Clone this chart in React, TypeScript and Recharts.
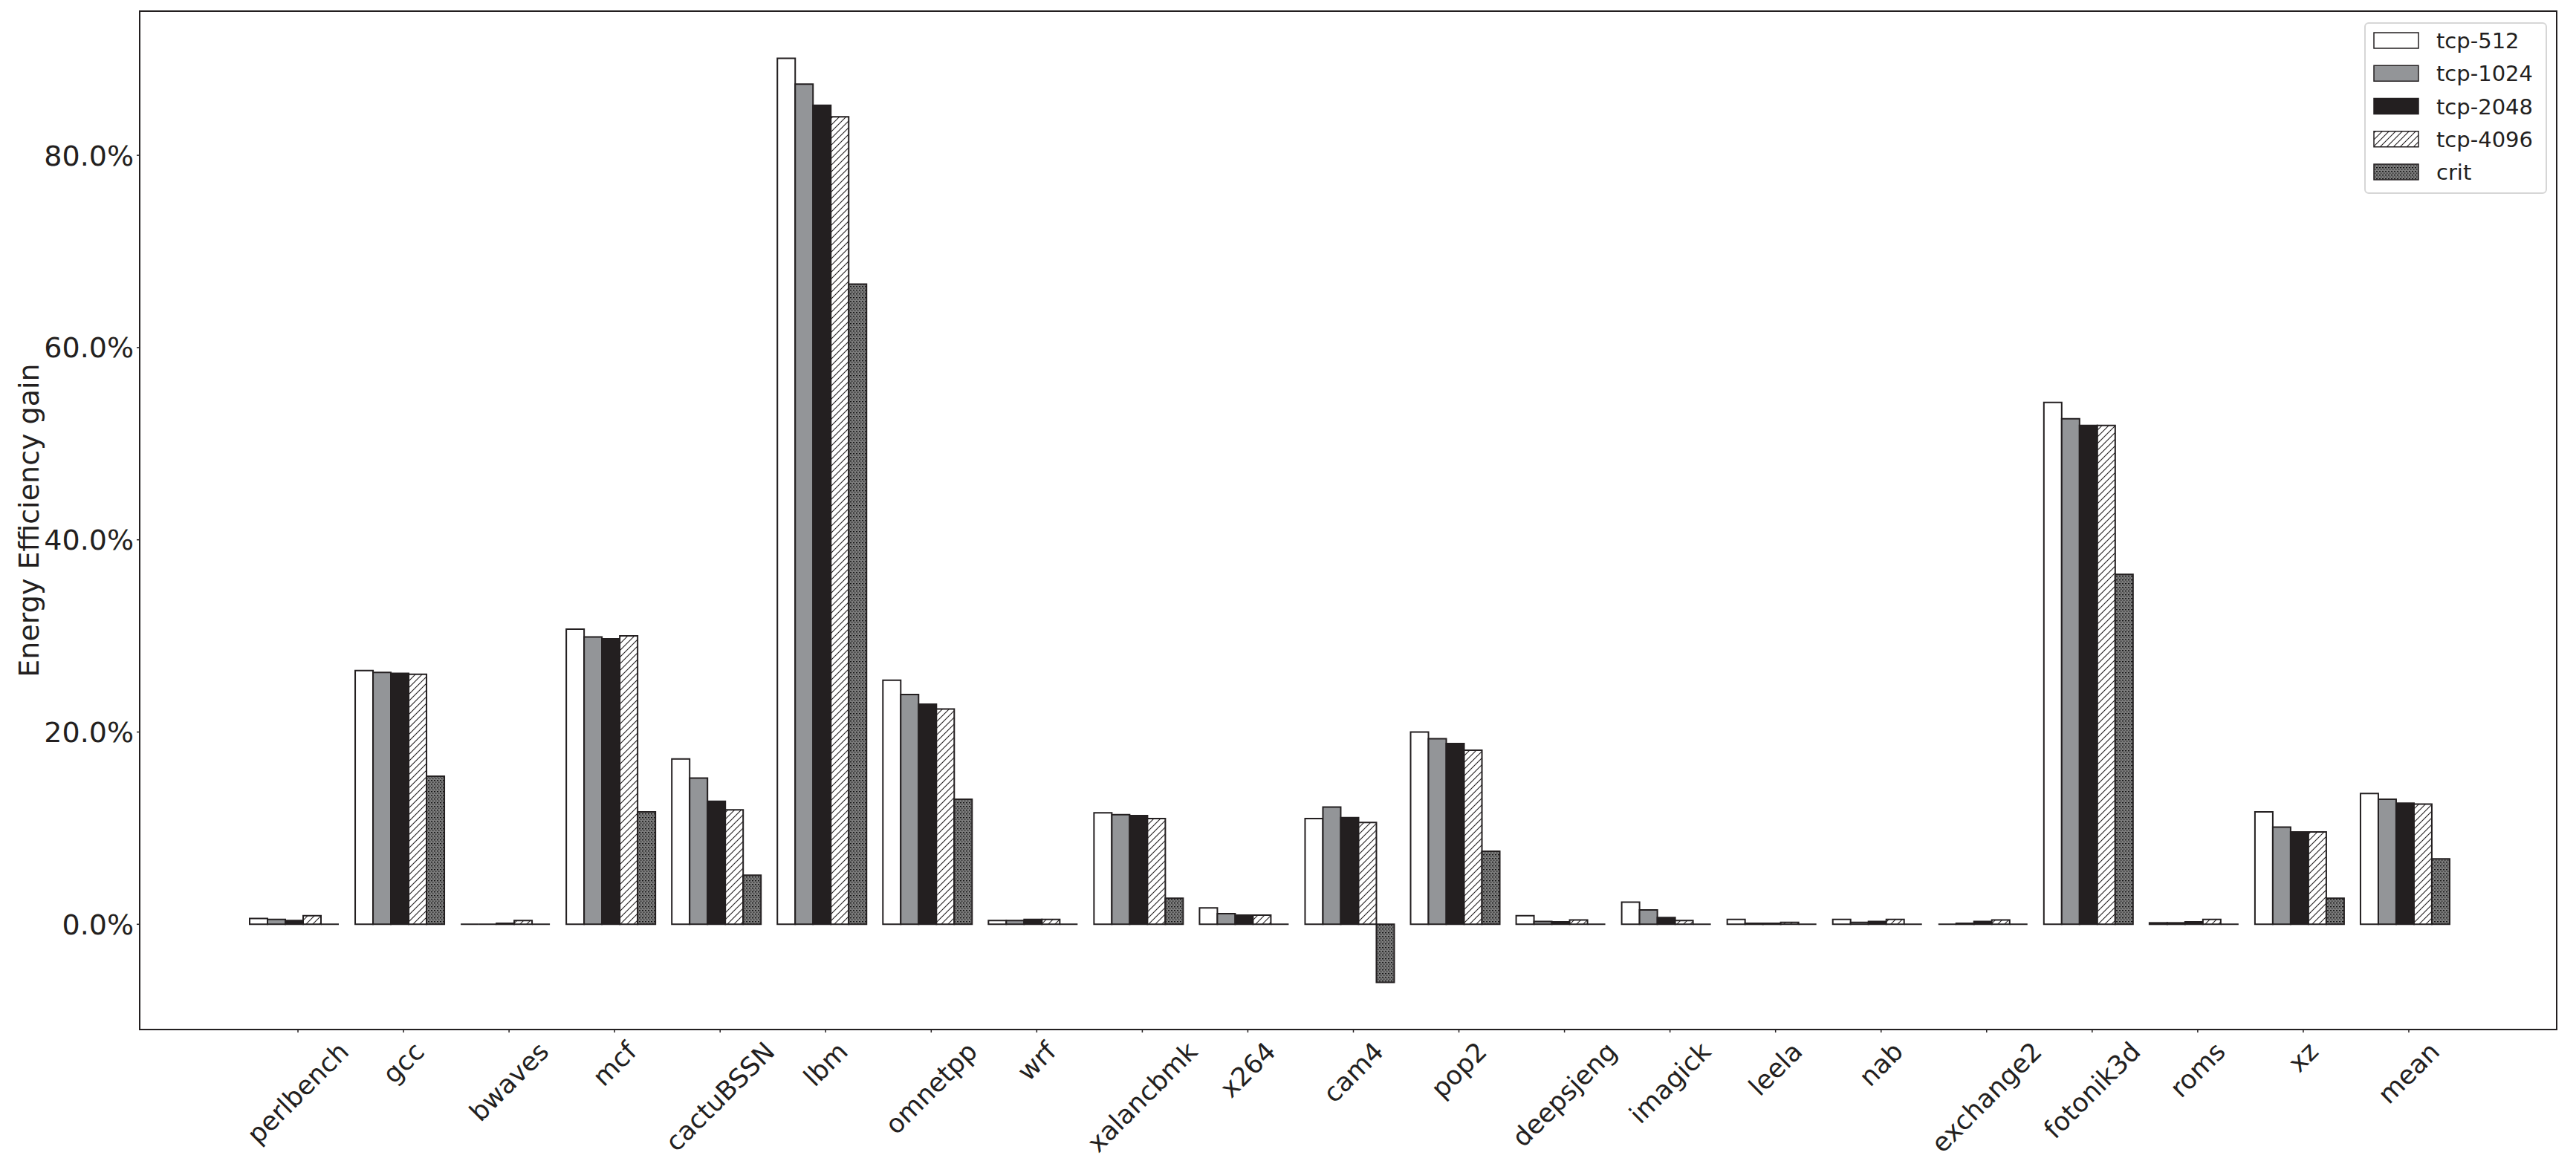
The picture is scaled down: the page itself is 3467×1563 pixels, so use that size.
import React from 'react'
import { Bar, BarChart, Legend, XAxis, YAxis } from 'recharts'

const categories = ['perlbench', 'gcc', 'bwaves', 'mcf', 'cactuBSSN', 'lbm', 'omnetpp', 'wrf', 'xalancbmk', 'x264', 'cam4', 'pop2', 'deepsjeng', 'imagick', 'leela', 'nab', 'exchange2', 'fotonik3d', 'roms', 'xz', 'mean']

const tcp512 = [0.6, 26.4, 0, 30.7, 17.2, 90.1, 25.4, 0.4, 11.6, 1.7, 11.0, 20.0, 0.9, 2.3, 0.5, 0.5, 0, 54.3, 0.15, 11.7, 13.6]
const tcp1024 = [0.5, 26.2, 0, 29.9, 15.2, 87.4, 23.9, 0.4, 11.4, 1.1, 12.2, 19.3, 0.3, 1.5, 0.1, 0.2, 0.1, 52.6, 0.15, 10.1, 13.0]
const tcp2048 = [0.4, 26.1, 0.1, 29.7, 12.8, 85.2, 22.9, 0.5, 11.3, 0.95, 11.1, 18.8, 0.25, 0.7, 0.1, 0.3, 0.3, 51.9, 0.25, 9.6, 12.6]
const tcp4096 = [0.9, 26.0, 0.4, 30.0, 11.9, 84.0, 22.4, 0.5, 11.0, 0.95, 10.6, 18.1, 0.45, 0.4, 0.2, 0.5, 0.45, 51.9, 0.5, 9.6, 12.5]
const crit = [0, 15.4, 0, 11.7, 5.1, 66.6, 13.0, 0, 2.7, 0, -6.05, 7.6, 0, 0, 0, 0, 0, 36.4, 0, 2.7, 6.8]

const yTicks = [0, 20, 40, 60, 80]

const data = categories.map((name, i) => ({
  name,
  tcp512: tcp512[i],
  tcp1024: tcp1024[i],
  tcp2048: tcp2048[i],
  tcp4096: tcp4096[i],
  crit: crit[i],
}))

const series = [
  { key: 'tcp512', label: 'tcp-512', fill: '#ffffff' },
  { key: 'tcp1024', label: 'tcp-1024', fill: '#939598' },
  { key: 'tcp2048', label: 'tcp-2048', fill: '#231f20' },
  { key: 'tcp4096', label: 'tcp-4096', fill: 'url(#hatchSlash)' },
  { key: 'crit', label: 'crit', fill: 'url(#hatchDots)' },
]

const W = 3467
const H = 1563
const PLOT_TOP = 15
const PLOT_BOTTOM = 1386
const PLOT_LEFT = 188
const PLOT_RIGHT = 3441
const INK = '#231f20'
const FONT = '"DejaVu Sans", sans-serif'
const X_FONT = 35
const Y_FONT = 38

let ctx: CanvasRenderingContext2D | null = null
function textWidth(s: string) {
  if (!ctx) ctx = document.createElement('canvas').getContext('2d')
  if (!ctx) return s.length * X_FONT * 0.6
  ctx.font = `${X_FONT}px "DejaVu Sans"`
  return ctx.measureText(s).width
}

// edges drawn like matplotlib: even a zero-height bar leaves a line
const barShape = (props: any) => {
  const { x, y, width, height, fill } = props
  if (x == null || y == null) return null
  return (
    <path
      d={`M${x},${y}h${width}v${height || 0}h${-width}Z`}
      fill={fill}
      stroke={INK}
      strokeWidth={2}
    />
  )
}

const XTick = (props: any) => {
  const { x, payload } = props
  const label = String(payload.value)
  const w = textWidth(label)
  const h = X_FONT * 1.16
  const cx = x + 6
  const cy = PLOT_BOTTOM + 9 + ((w + h) * Math.SQRT1_2) / 2
  return (
    <g>
      <line x1={cx} x2={cx} y1={PLOT_BOTTOM} y2={PLOT_BOTTOM + 4} stroke={INK} strokeWidth={1.5} />
      <text
        transform={`translate(${cx},${cy}) rotate(-45)`}
        textAnchor="middle"
        dominantBaseline="central"
        fontSize={X_FONT}
        fontFamily={FONT}
        fill={INK}
      >
        {label}
      </text>
    </g>
  )
}

const renderLegend = () => (
  <svg width={246} height={232} style={{ display: 'block' }}>
    <rect x={1} y={1} width={244} height={229} rx={5} fill="#ffffff" fillOpacity={0.8} stroke="#d6d6d6" strokeWidth={2} />
    {series.map((s, i) => {
      const cy = 25 + i * 44.25
      return (
        <g key={s.key}>
          <rect x={13} y={cy - 11} width={60} height={21} fill={s.fill} stroke={INK} strokeWidth={1.5} />
          <text x={97} y={cy} dominantBaseline="central" fontSize={29} fontFamily={FONT} fill={INK}>
            {s.label}
          </text>
        </g>
      )
    })}
  </svg>
)

export default function App() {
  return (
    <div style={{ position: 'absolute', left: 0, top: 0, width: W, height: H, background: '#fff' }}>
      <BarChart
        width={W}
        height={H}
        data={data}
        margin={{ top: PLOT_TOP, right: W - PLOT_RIGHT, bottom: 0, left: 0 }}
        barCategoryGap={12}
        barGap={0}
      >
        <defs>
          <pattern id="hatchSlash" patternUnits="userSpaceOnUse" width={9} height={9}>
            <rect width={9} height={9} fill="#ffffff" />
            <path d="M0,9 L9,0 M-2,2 L2,-2 M7,11 L11,7" stroke={INK} strokeWidth={1.1} />
          </pattern>
          <pattern id="hatchDots" patternUnits="userSpaceOnUse" width={4} height={5}>
            <rect width={4} height={5} fill="#7c7c7c" />
            <rect x={0} y={0} width={2} height={1.4} fill="#111111" />
            <rect x={2} y={2.5} width={1.4} height={1.4} fill="#222222" />
          </pattern>
        </defs>
        <XAxis
          dataKey="name"
          interval={0}
          height={H - PLOT_BOTTOM}
          padding={{ left: 136, right: 134 }}
          tick={XTick}
          tickLine={false}
          axisLine={{ stroke: INK, strokeWidth: 2 }}
        />
        <YAxis
          width={PLOT_LEFT}
          domain={[-10.95, 95]}
          allowDataOverflow
          ticks={yTicks}
          tickFormatter={(v: number) => `${v.toFixed(1)}%`}
          tick={{ fontSize: Y_FONT, fontFamily: FONT, fill: INK }}
          tickSize={4}
          tickMargin={4}
          tickLine={{ stroke: INK, strokeWidth: 1.5 }}
          axisLine={{ stroke: INK, strokeWidth: 2 }}
          label={{
            content: (p: any) => {
              const vb = p.viewBox || { y: PLOT_TOP, height: PLOT_BOTTOM - PLOT_TOP }
              const cy = vb.y + vb.height / 2
              return (
                <text
                  transform={`translate(39,${cy}) rotate(-90)`}
                  textAnchor="middle"
                  dominantBaseline="central"
                  fontSize={38}
                  fontFamily={FONT}
                  fill={INK}
                >
                  Energy Efficiency gain
                </text>
              )
            },
          }}
        />
        <Legend
          layout="vertical"
          align="center"
          verticalAlign="middle"
          content={renderLegend}
          wrapperStyle={{ position: 'absolute', left: 3182, top: 30, width: 246, height: 232 }}
        />
        {series.map((s) => (
          <Bar
            key={s.key}
            dataKey={s.key}
            name={s.label}
            fill={s.fill}
            shape={barShape}
            isAnimationActive={false}
          />
        ))}
      </BarChart>
      {/* axes frame (top and right spines) */}
      <div
        style={{
          position: 'absolute',
          left: PLOT_LEFT - 1,
          top: PLOT_TOP - 1,
          width: PLOT_RIGHT - PLOT_LEFT + 2,
          height: PLOT_BOTTOM - PLOT_TOP + 2,
          border: `2px solid ${INK}`,
          boxSizing: 'border-box',
          pointerEvents: 'none',
        }}
      />
    </div>
  )
}
